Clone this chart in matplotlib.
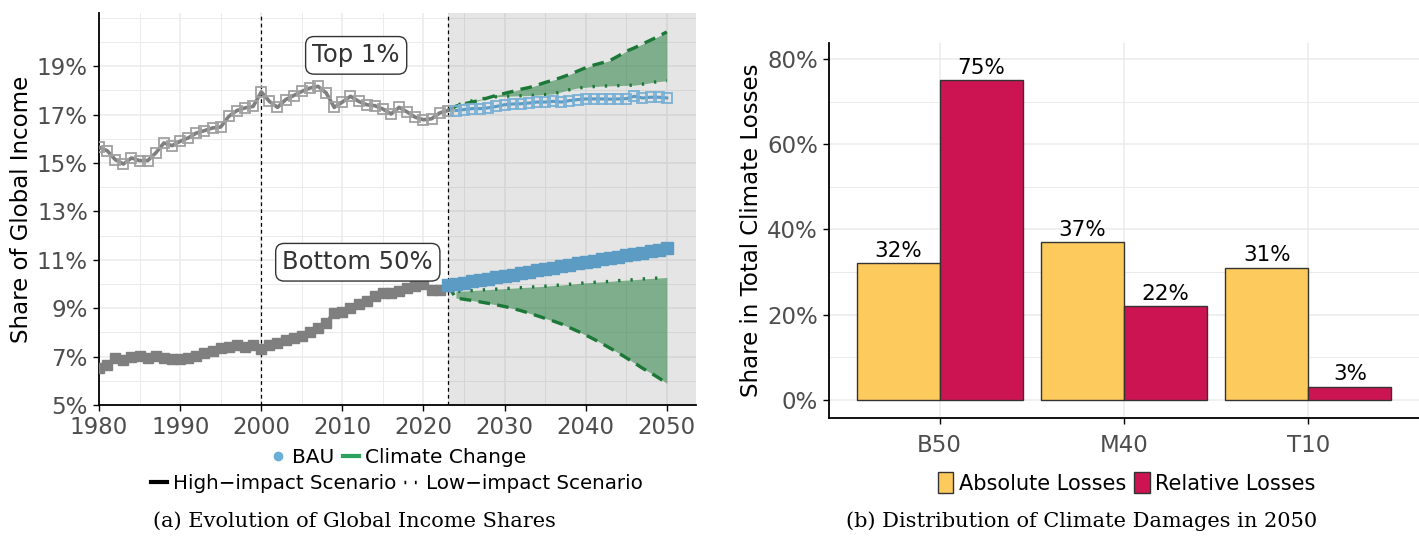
import matplotlib
matplotlib.use("Agg")
import matplotlib.pyplot as plt
import numpy as np
from matplotlib.lines import Line2D
from matplotlib.patches import Patch
from matplotlib.ticker import FixedLocator, FuncFormatter

# ---- data: panel (a), historical 1980-2023
years_hist = list(range(1980, 2024))
top1_hist = [15.65, 15.51, 15.14, 14.96, 15.21, 15.10, 15.10, 15.42, 15.83, 15.72,
             15.90, 16.04, 16.24, 16.34, 16.45, 16.49, 16.93, 17.17, 17.28, 17.34,
             17.94, 17.55, 17.30, 17.62, 17.79, 17.96, 18.10, 18.17, 17.90, 17.30,
             17.52, 17.76, 17.55, 17.41, 17.37, 17.23, 17.03, 17.30, 17.11, 16.89,
             16.79, 16.83, 17.07, 17.17]
bot50_hist = [6.53, 6.67, 6.94, 6.85, 6.99, 7.04, 6.94, 7.04, 6.96, 6.90,
              6.90, 6.96, 7.01, 7.13, 7.22, 7.35, 7.40, 7.46, 7.40, 7.50,
              7.32, 7.46, 7.57, 7.68, 7.76, 7.85, 8.01, 8.19, 8.37, 8.82,
              8.85, 8.99, 9.19, 9.31, 9.51, 9.61, 9.62, 9.72, 9.82, 9.93,
              10.00, 9.76, 9.76, 9.93]

# ---- projections 2023-2050
years_proj = list(range(2023, 2051))
top1_bau = [17.17, 17.17, 17.21, 17.25, 17.25, 17.28, 17.34, 17.41, 17.44, 17.45,
            17.48, 17.52, 17.52, 17.55, 17.52, 17.58, 17.62, 17.65, 17.65, 17.65,
            17.64, 17.65, 17.66, 17.76, 17.69, 17.72, 17.72, 17.69]
top1_high = [17.17, 17.35, 17.45, 17.52, 17.60, 17.70, 17.80, 17.88, 17.96, 18.05,
             18.12, 18.22, 18.33, 18.43, 18.54, 18.66, 18.80, 18.94, 19.05, 19.14,
             19.24, 19.42, 19.62, 19.76, 19.92, 20.08, 20.24, 20.42]
top1_low = [17.17, 17.38, 17.48, 17.57, 17.64, 17.70, 17.74, 17.76, 17.77, 17.78,
            17.79, 17.81, 17.83, 17.86, 17.94, 18.03, 18.10, 18.13, 18.16, 18.18,
            18.19, 18.20, 18.21, 18.22, 18.26, 18.32, 18.37, 18.40]
bot50_bau = [9.95, 10.00, 10.06, 10.11, 10.17, 10.22, 10.28, 10.34, 10.39, 10.45,
             10.51, 10.56, 10.62, 10.68, 10.73, 10.79, 10.85, 10.90, 10.96, 11.02,
             11.07, 11.13, 11.19, 11.24, 11.30, 11.36, 11.41, 11.47]
bot50_high = [9.95, 9.42, 9.37, 9.32, 9.26, 9.20, 9.14, 9.07, 8.99, 8.90,
              8.80, 8.69, 8.58, 8.47, 8.35, 8.20, 8.05, 7.89, 7.72, 7.54,
              7.35, 7.16, 6.95, 6.74, 6.52, 6.33, 6.12, 5.90]
bot50_low = [9.95, 9.70, 9.71, 9.73, 9.75, 9.77, 9.79, 9.81, 9.83, 9.85,
             9.87, 9.89, 9.91, 9.94, 9.96, 9.99, 10.02, 10.05, 10.07, 10.09,
             10.11, 10.14, 10.16, 10.18, 10.21, 10.23, 10.25, 10.27]

# ---- data: panel (b)
groups = ["B50", "M40", "T10"]
absolute_losses = [32, 37, 31]
relative_losses = [75, 22, 3]

GREY = "#7f7f7f"
BLUE = "#5b9bc4"
GREEN = "#1b7837"
TICK_COL = "#4d4d4d"
GRID_COL = "#ebebeb"
YELLOW = "#fdca5d"
RED = "#cc1452"

fig = plt.figure(figsize=(14.19, 5.4), dpi=100)

# ================= panel (a)
ax1 = fig.add_axes([0.0698, 0.25, 0.4207, 0.7259])
ax1.set_xlim(1980, 2053.6)
ax1.set_ylim(5, 21.2)
ax1.axvspan(2023, 2053.6, color="grey", alpha=0.2, lw=0, zorder=1)

ax1.set_yticks(range(5, 20, 2))
ax1.yaxis.set_minor_locator(FixedLocator([6, 8, 10, 12, 14, 16, 18, 20, 21]))
ax1.set_xticks(range(1980, 2051, 10))
ax1.xaxis.set_minor_locator(FixedLocator(range(1985, 2050, 10)))
ax1.yaxis.set_major_formatter(FuncFormatter(lambda v, p: f"{v:.0f}%"))
ax1.grid(which="major", color=GRID_COL, lw=1.1, zorder=0)
ax1.grid(which="minor", color=GRID_COL, lw=0.7, zorder=0)
ax1.set_axisbelow(True)

ax1.axvline(2000, color="black", lw=0.9, ls=(0, (3, 2.5)), zorder=3)
ax1.axvline(2023, color="black", lw=0.9, ls=(0, (3, 2.5)), zorder=3)

# climate change ribbons
ax1.fill_between(years_proj, top1_low, top1_high, color=GREEN, alpha=0.5, lw=0, zorder=2)
ax1.fill_between(years_proj[1:], bot50_low[1:], bot50_high[1:], color=GREEN, alpha=0.5, lw=0, zorder=2)
for hi, lo in [(top1_high, top1_low), (bot50_high, bot50_low)]:
    ax1.plot(years_proj, hi, color=GREEN, lw=2.4, ls=(0, (3.5, 2.2)), zorder=4)
    ax1.plot(years_proj, lo, color=GREEN, lw=2.4, ls=(0, (0.7, 3.0)), zorder=4)

# historical
ax1.plot(years_hist, top1_hist, color=GREY, lw=2.6, zorder=5)
ax1.plot(years_hist, top1_hist, ls="none", marker="s", ms=7.5, mfc="none",
         mec="#a0a0a0", mew=1.3, zorder=5)
ax1.plot(years_hist, bot50_hist, color=GREY, lw=3, marker="s", ms=7.5,
         mfc=GREY, mec=GREY, zorder=5)

# BAU
ax1.plot(years_proj[1:], top1_bau[1:], color=BLUE, lw=2.2, zorder=6)
ax1.plot(years_proj[1:], top1_bau[1:], ls="none", marker="s", ms=7.5, mfc="none",
         mec="#79b0d6", mew=1.3, zorder=6)
ax1.plot(years_proj, bot50_bau, color=BLUE, lw=3, marker="s", ms=8.5,
         mfc=BLUE, mec=BLUE, zorder=6)

box = dict(boxstyle="round,pad=0.28,rounding_size=0.35", fc="white", ec="#333333", lw=1.0)
ax1.text(2011.7, 19.45, "Top 1%", ha="center", va="center", fontsize=17.5,
         color="#333333", bbox=box, zorder=7)
ax1.text(2011.9, 10.9, "Bottom 50%", ha="center", va="center", fontsize=17.5,
         color="#333333", bbox=box, zorder=7)

ax1.set_ylabel("Share of Global Income", fontsize=16.5, labelpad=3)
for s in ["top", "right"]:
    ax1.spines[s].set_visible(False)
for s in ["left", "bottom"]:
    ax1.spines[s].set_linewidth(1.3)
ax1.tick_params(which="major", labelsize=16.5, labelcolor=TICK_COL, length=4, width=1, pad=4)
ax1.tick_params(which="minor", length=0)

leg1 = fig.legend(handles=[Line2D([], [], ls="none", marker="o", ms=6, color="#6baed6"),
                           Line2D([], [], color="#2ca25f", lw=3)],
                  labels=["BAU", "Climate Change"], loc="center",
                  bbox_to_anchor=(0.2805, 0.152), ncol=2, frameon=False, fontsize=14.5,
                  handlelength=0.8, handletextpad=0.3, columnspacing=0.4,
                  borderpad=0, borderaxespad=0)
leg2 = fig.legend(handles=[Line2D([], [], color="black", lw=3),
                           Line2D([], [], color="black", lw=2.5, ls=(0, (0.5, 2.5)))],
                  labels=["High\u2212impact Scenario", "Low\u2212impact Scenario"],
                  loc="center", bbox_to_anchor=(0.2798, 0.104), ncol=2, frameon=False,
                  fontsize=14.3, handlelength=0.8, handletextpad=0.3, columnspacing=0.4,
                  borderpad=0, borderaxespad=0)

# ================= panel (b)
ax2 = fig.add_axes([0.5842, 0.2265, 0.4158, 0.6935])
x = np.arange(1, len(groups) + 1)
w = 0.45
b1 = ax2.bar(x - w / 2, absolute_losses, w, color=YELLOW, edgecolor="#333333", lw=1, zorder=3)
b2 = ax2.bar(x + w / 2, relative_losses, w, color=RED, edgecolor="#333333", lw=1, zorder=3)
for bars, vals in [(b1, absolute_losses), (b2, relative_losses)]:
    for r, v in zip(bars, vals):
        ax2.text(r.get_x() + r.get_width() / 2, v + 0.6, f"{v}%", ha="center",
                 va="bottom", fontsize=15.5)

ax2.set_xlim(0.4, 3.6)
ax2.set_ylim(-4.2, 83.7)
ax2.set_xticks(x)
ax2.set_xticklabels(groups)
ax2.set_yticks(range(0, 81, 20))
ax2.yaxis.set_minor_locator(FixedLocator(range(10, 80, 20)))
ax2.yaxis.set_major_formatter(FuncFormatter(lambda v, p: f"{v:.0f}%"))
ax2.grid(which="major", color=GRID_COL, lw=1.1, zorder=0)
ax2.grid(which="minor", axis="y", color=GRID_COL, lw=0.7, zorder=0)
ax2.set_axisbelow(True)
ax2.set_ylabel("Share in Total Climate Losses", fontsize=16.5, labelpad=3)
for s in ["top", "right"]:
    ax2.spines[s].set_visible(False)
for s in ["left", "bottom"]:
    ax2.spines[s].set_linewidth(1.3)
ax2.tick_params(which="major", labelsize=16.5, labelcolor=TICK_COL, length=4, width=1, pad=4)
ax2.tick_params(axis="x", pad=8)
ax2.tick_params(which="minor", length=0)

fig.legend(handles=[Patch(fc=YELLOW, ec="#333333"), Patch(fc=RED, ec="#333333")],
           labels=["Absolute Losses", "Relative Losses"], loc="center",
           bbox_to_anchor=(0.7939, 0.106), ncol=2, frameon=False, fontsize=15,
           handlelength=0.75, handleheight=1.2, handletextpad=0.25, columnspacing=0.4,
           borderpad=0, borderaxespad=0)

# captions
fig.text(0.250, 0.035, "(a) Evolution of Global Income Shares", ha="center",
         va="center", family="DejaVu Serif", fontsize=15)
fig.text(0.7625, 0.035, "(b) Distribution of Climate Damages in 2050", ha="center",
         va="center", family="DejaVu Serif", fontsize=15)

fig.savefig("out.png", dpi=100)
